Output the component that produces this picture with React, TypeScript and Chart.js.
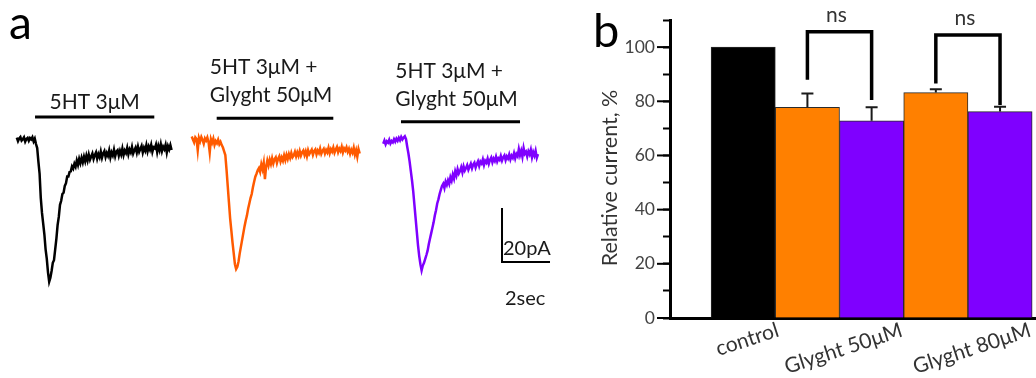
import React, { useEffect, useRef } from 'react';
import { Chart, registerables } from 'chart.js';

Chart.register(...registerables);

// ================= DATA =================
// Panel a: whole-cell current traces (pA), sampled every SAMPLE_DT seconds
const SAMPLE_DT = 0.05; // s

const traceControl = [
  0.9, -0.4, 0.6, 1.1, -0.2, 0.3, 1.0, -0.6, 0.4, 0.8,
  -0.3, 0.7, 0.2, 1.0, -0.5, 0.5, -1.5, -3, -8, -12.5,
  -21.5, -27, -31, -35, -40.5, -44, -49, -52.5, -51, -48.5,
  -45.5, -44.5, -40.5, -36.5, -31.5, -28.5, -24, -22.5, -20, -19.5,
  -17, -16, -13.5, -13.5, -11.8, -11.6, -9.8, -10.6, -8.8, -9.9,
  -7.6, -9.2, -7.0, -8.6, -6.6, -8.3, -6.2, -7.9, -5.8, -7.6,
  -5.4, -7.3, -6.1, -5.0, -7.0, -5.6, -4.6, -6.9, -5.2, -6.4,
  -4.3, -6.6, -5.0, -4.1, -6.3, -4.8, -5.9, -3.9, -6.5, -4.6,
  -5.7, -3.6, -6.0, -4.3, -3.8, -5.8, -4.0, -5.4, -3.2, -5.6,
  -3.9, -4.8, -2.9, -5.3, -3.5, -4.6, -2.6, -5.0, -3.8, -2.8,
  -4.7, -2.5, -4.4, -3.3, -2.2, -4.6, -2.9, -4.0, -1.9, -4.2,
  -2.4, -3.6, -1.8, -4.4, -2.7, -3.1, -1.7, -4.5, -2.2, -3.8,
  -1.6, -4.1, -2.5, -3.4, -1.8, -4.6, -2.3, -3.5, -1.9, -3.7,
];

const traceGlyght50a = [
  1.3, 0.2, -0.9, 1.0, 0.4, -3.8, 0.8, -0.5, 1.1, 0.0,
  -1.4, 0.6, -0.2, 0.9, -0.8, -4.6, 0.3, -1.0, 0.5, -1.8,
  -0.4, -1.2, 0.1, -1.6, -0.7, -1.9, -2.8, -4.2, -5.6, -11,
  -17, -23, -29, -33.5, -38, -42, -46, -47.8, -47, -45,
  -42, -39.5, -37, -34.5, -32, -29.8, -28, -25.5, -23.5, -21.5,
  -20, -17.5, -15.5, -13.6, -12.5, -11.2, -10.4, -11.8, -9.0, -10.8,
  -8.4, -14.5, -9.9, -7.6, -9.4, -7.3, -8.9, -6.8, -8.7, -7.1,
  -6.4, -8.5, -6.9, -6.0, -8.0, -6.5, -7.7, -5.7, -7.4, -5.5,
  -7.0, -5.2, -6.6, -4.8, -6.4, -5.7, -4.4, -6.1, -4.6, -5.9,
  -4.1, -5.8, -4.6, -3.9, -5.6, -4.2, -6.0, -3.8, -5.2, -4.4,
  -3.6, -5.5, -4.1, -3.5, -5.3, -3.9, -4.8, -3.2, -5.1, -4.0,
  -3.3, -5.0, -3.7, -4.6, -2.9, -4.9, -3.4, -4.3, -2.8, -4.7,
  -3.5, -2.6, -4.5, -3.2, -4.1, -2.5, -4.6, -3.1, -3.9, -2.7,
  -4.4, -3.3, -5.1, -3.6, -4.7, -2.9, -5.4, -3.8, -6.2, -3.4,
  -5.0,
];

const traceGlyght50b = [
  -1.4, -0.2, -1.6, -0.5, -1.0, 0.1, -1.3, -0.4, -0.9, 0.3,
  -0.6, 0.5, -0.3, 0.8, -0.1, 1.1, 0.2, 0.9, 1.4, 0.3,
  -2.5, -5, -8, -11.5, -15, -19, -24, -29, -34, -39,
  -43, -46, -48.3, -46.5, -45.5, -44, -42.6, -41, -38.5, -36.5,
  -34.5, -32.5, -30.5, -28, -26, -23.5, -22, -20, -18.5, -17,
  -16.2, -17.8, -15.4, -16.6, -14.9, -16.2, -13.8, -15.1, -12.8, -14.3,
  -11.6, -13.1, -10.8, -12.4, -11.5, -10.1, -12.0, -9.8, -11.3, -10.4,
  -9.3, -11.0, -9.9, -8.8, -10.5, -9.1, -8.4, -10.2, -8.9, -7.9,
  -9.6, -8.0, -8.7, -7.2, -9.3, -7.7, -8.4, -6.9, -8.8, -7.4,
  -6.5, -8.3, -6.9, -7.8, -6.2, -8.0, -6.8, -7.4, -5.9, -7.6,
  -6.4, -5.7, -7.5, -6.1, -6.9, -5.4, -7.2, -5.8, -6.6, -4.9,
  -6.8, -5.2, -6.0, -3.4, -5.6, -4.0, -6.2, -3.0, -5.1, -4.4,
  -6.1, -4.2, -5.3, -3.6, -6.4, -4.5, -5.8, -4.0, -6.6, -5.2,
];

const traceLabels = [
  ['5HT 3μM'],
  ['5HT 3μM +', 'Glyght 50μM'],
  ['5HT 3μM +', 'Glyght 50μM'],
];
const applicationStart = [0.76, 1.04, 0.74]; // s from trace start
const applicationEnd = [5.73, 5.9, 5.7]; // s from trace start
const scaleBarTime = 2; // s
const scaleBarCurrent = 20; // pA

// Panel b: relative current, %
const barValues = [100, 77.8, 72.8, 83.2, 76.2];
const barErrors = [0, 5.1, 5.0, 1.2, 1.8];
const groupNames = ['control', 'Glyght 50μM', 'Glyght 80μM'];
const groupBars = [[0], [1, 2], [3, 4]];
const yMajorTicks = [0, 20, 40, 60, 80, 100];
const bracketPairs = [[1, 2], [3, 4]];
const bracketTop = [105.7, 104.5];
const bracketLeftEnd = [87.9, 86.6];
const bracketRightEnd = [80.5, 78.6];
const bracketText = ['ns', 'ns'];

// ================= LAYOUT / STYLE =================
const FONT = 'Lato, "Open Sans", sans-serif';
const traceColors = ['#000000', '#ff5a00', '#7f00ff'];
const barColors = ['#000000', '#ff8000', '#7f00ff', '#ff8000', '#7f00ff'];
const traceStart = [0.7, 7.99, 15.97]; // placement along panel time axis (s)
const applicationLevel = [8.5, 8.1, 6.8]; // pA, placement of drug bars
const A_XMAX = 24.17;
const A_YMIN = -88.15;
const A_YMAX = 51.85;
const scaleBarCorner = { t: 20.92, i: -45.2 };

const panelAPlugin = {
  id: 'panelA',
  afterDatasetsDraw(chart: any) {
    const { ctx } = chart;
    const xs = chart.scales.x;
    const ys = chart.scales.y;
    ctx.save();
    ctx.fillStyle = '#000';
    ctx.font = `46px ${FONT}`;
    ctx.textBaseline = 'alphabetic';
    ctx.textAlign = 'left';
    ctx.fillText('a', 9, 39);

    traceLabels.forEach((lines, k) => {
      const x1 = xs.getPixelForValue(traceStart[k] + applicationStart[k]);
      const x2 = xs.getPixelForValue(traceStart[k] + applicationEnd[k]);
      const yb = ys.getPixelForValue(applicationLevel[k]);
      ctx.strokeStyle = '#000';
      ctx.lineWidth = 3;
      ctx.beginPath();
      ctx.moveTo(x1, yb);
      ctx.lineTo(x2, yb);
      ctx.stroke();

      ctx.font = `21px ${FONT}`;
      ctx.fillStyle = '#1a1a1a';
      const cx = (x1 + x2) / 2;
      if (lines.length === 1) {
        ctx.textAlign = 'center';
        ctx.fillText(lines[0], cx, yb - 8.5);
      } else {
        const maxW = Math.max(...lines.map((l) => ctx.measureText(l).width));
        ctx.textAlign = 'left';
        const left = cx - maxW / 2 - 4;
        const lastBase = yb - 16;
        lines.forEach((l, j) => {
          ctx.fillText(l, left, lastBase - (lines.length - 1 - j) * 28);
        });
      }
    });

    const cxp = xs.getPixelForValue(scaleBarCorner.t);
    const cyp = ys.getPixelForValue(scaleBarCorner.i);
    const txp = xs.getPixelForValue(scaleBarCorner.t + scaleBarTime);
    const typ = ys.getPixelForValue(scaleBarCorner.i + scaleBarCurrent);
    ctx.strokeStyle = '#000';
    ctx.lineWidth = 2;
    ctx.beginPath();
    ctx.moveTo(cxp, typ);
    ctx.lineTo(cxp, cyp);
    ctx.lineTo(txp, cyp);
    ctx.stroke();
    ctx.fillStyle = '#1a1a1a';
    ctx.font = `20px ${FONT}`;
    ctx.textAlign = 'left';
    ctx.fillText(`${scaleBarCurrent}pA`, cxp + 1, cyp - 7);
    ctx.fillText(`${scaleBarTime}sec`, cxp + 3, cyp + 43);
    ctx.restore();
  },
};

const panelBPlugin = {
  id: 'panelB',
  afterDatasetsDraw(chart: any) {
    const { ctx } = chart;
    const xs = chart.scales.x;
    const ys = chart.scales.y;
    const bx = (i: number) => xs.getPixelForValue(i + 1);
    const axisX = chart.chartArea.left;
    ctx.save();

    // longer major ticks on the y axis
    ctx.strokeStyle = '#000';
    ctx.lineWidth = 2;
    yMajorTicks.forEach((v) => {
      const y = ys.getPixelForValue(v);
      ctx.beginPath();
      ctx.moveTo(axisX - 13, y);
      ctx.lineTo(axisX, y);
      ctx.stroke();
    });

    // error bars (upper only)
    ctx.strokeStyle = '#1a1a1a';
    ctx.lineWidth = 2;
    barValues.forEach((v, i) => {
      if (!barErrors[i]) return;
      const x = bx(i);
      const y0 = ys.getPixelForValue(v);
      const y1 = ys.getPixelForValue(v + barErrors[i]);
      ctx.beginPath();
      ctx.moveTo(x, y0);
      ctx.lineTo(x, y1);
      ctx.moveTo(x - 6, y1);
      ctx.lineTo(x + 6, y1);
      ctx.stroke();
    });

    // significance brackets
    bracketPairs.forEach(([a, b], k) => {
      const xa = bx(a);
      const xb = bx(b);
      const yt = ys.getPixelForValue(bracketTop[k]);
      ctx.strokeStyle = '#000';
      ctx.lineWidth = 3.5;
      ctx.lineJoin = 'miter';
      ctx.beginPath();
      ctx.moveTo(xa, ys.getPixelForValue(bracketLeftEnd[k]));
      ctx.lineTo(xa, yt);
      ctx.lineTo(xb, yt);
      ctx.lineTo(xb, ys.getPixelForValue(bracketRightEnd[k]));
      ctx.stroke();
      ctx.fillStyle = '#333';
      ctx.font = `21px ${FONT}`;
      ctx.textAlign = 'center';
      ctx.textBaseline = 'alphabetic';
      ctx.fillText(bracketText[k], (xa + xb) / 2 - 3, yt - 10);
    });

    // rotated category labels
    const ang = (18 * Math.PI) / 180;
    ctx.font = `21px ${FONT}`;
    ctx.fillStyle = '#333';
    ctx.textAlign = 'center';
    ctx.textBaseline = 'middle';
    const y0 = ys.getPixelForValue(0);
    groupNames.forEach((name, g) => {
      const idx = groupBars[g];
      const cx = idx.reduce((s, i) => s + bx(i), 0) / idx.length;
      const w = ctx.measureText(name).width;
      const boxH = w * Math.sin(ang) + 16 * Math.cos(ang);
      ctx.save();
      ctx.translate(cx + 4, y0 + 4 + boxH / 2);
      ctx.rotate(-ang);
      ctx.fillText(name, 0, 0);
      ctx.restore();
    });

    // y title
    ctx.save();
    ctx.translate(30, (ys.getPixelForValue(110) + y0) / 2 + 9);
    ctx.rotate(-Math.PI / 2);
    ctx.font = `21.5px ${FONT}`;
    ctx.fillStyle = '#333';
    ctx.textAlign = 'center';
    ctx.textBaseline = 'middle';
    ctx.fillText('Relative current, %', 0, 0);
    ctx.restore();

    // panel letter
    ctx.fillStyle = '#000';
    ctx.font = `47px ${FONT}`;
    ctx.textAlign = 'left';
    ctx.textBaseline = 'alphabetic';
    ctx.fillText('b', 13, 46.5);
    ctx.restore();
  },
};

export default function App() {
  const aRef = useRef<HTMLCanvasElement>(null);
  const bRef = useRef<HTMLCanvasElement>(null);

  useEffect(() => {
    const traces = [traceControl, traceGlyght50a, traceGlyght50b];
    const chartA = new Chart(aRef.current as HTMLCanvasElement, {
      type: 'line',
      data: {
        datasets: traces.map((tr, k) => ({
          data: tr.map((v, i) => ({ x: traceStart[k] + i * SAMPLE_DT, y: v })),
          borderColor: traceColors[k],
          borderWidth: 2.5,
          pointRadius: 0,
          tension: 0,
          fill: false,
        })),
      },
      options: {
        animation: false,
        responsive: false,
        events: [],
        layout: { padding: 0 },
        plugins: { legend: { display: false }, tooltip: { enabled: false } },
        scales: {
          x: { type: 'linear', display: false, min: 0, max: A_XMAX },
          y: { type: 'linear', display: false, min: A_YMIN, max: A_YMAX },
        },
      },
      plugins: [panelAPlugin],
    } as any);

    const chartB = new Chart(bRef.current as HTMLCanvasElement, {
      type: 'bar',
      data: {
        datasets: [
          {
            data: barValues.map((v, i) => ({ x: i + 1, y: v })),
            backgroundColor: barColors,
            borderColor: '#2a2a2a',
            borderWidth: 1,
            barPercentage: 1,
            categoryPercentage: 1,
          },
        ],
      },
      options: {
        animation: false,
        responsive: false,
        events: [],
        layout: { padding: { top: 20, bottom: 60, left: 0, right: 0 } },
        plugins: { legend: { display: false }, tooltip: { enabled: false } },
        scales: {
          x: {
            type: 'linear',
            offset: false,
            min: -0.14,
            max: 5.56,
            afterBuildTicks: (s: any) => {
              s.ticks = barValues.map((_, i) => ({ value: i + 1 }));
            },
            ticks: { display: false },
            grid: { display: false, drawTicks: false, offset: false },
            border: { display: true, color: '#000', width: 3 },
          },
          y: {
            type: 'linear',
            min: 0,
            max: 110,
            afterFit: (s: any) => {
              s.width = 90;
            },
            ticks: {
              stepSize: 10,
              autoSkip: false,
              padding: 8,
              color: '#444',
              font: { family: FONT, size: 17.5 },
              callback: (v: any) => (v % 20 === 0 ? String(v) : ''),
            },
            grid: {
              drawOnChartArea: false,
              drawTicks: true,
              tickLength: 7,
              tickWidth: 2,
              tickColor: '#000',
            },
            border: { display: true, color: '#000', width: 3 },
          },
        },
      },
      plugins: [panelBPlugin],
    } as any);

    return () => {
      chartA.destroy();
      chartB.destroy();
    };
  }, []);

  return (
    <div
      style={{
        position: 'absolute',
        left: 0,
        top: 0,
        width: 1036,
        height: 378,
        background: '#fff',
        overflow: 'hidden',
      }}
    >
      <canvas
        ref={aRef}
        width={580}
        height={378}
        style={{ position: 'absolute', left: 0, top: 0, width: 580, height: 378, display: 'block' }}
      />
      <canvas
        ref={bRef}
        width={456}
        height={378}
        style={{ position: 'absolute', left: 580, top: 0, width: 456, height: 378, display: 'block' }}
      />
    </div>
  );
}
